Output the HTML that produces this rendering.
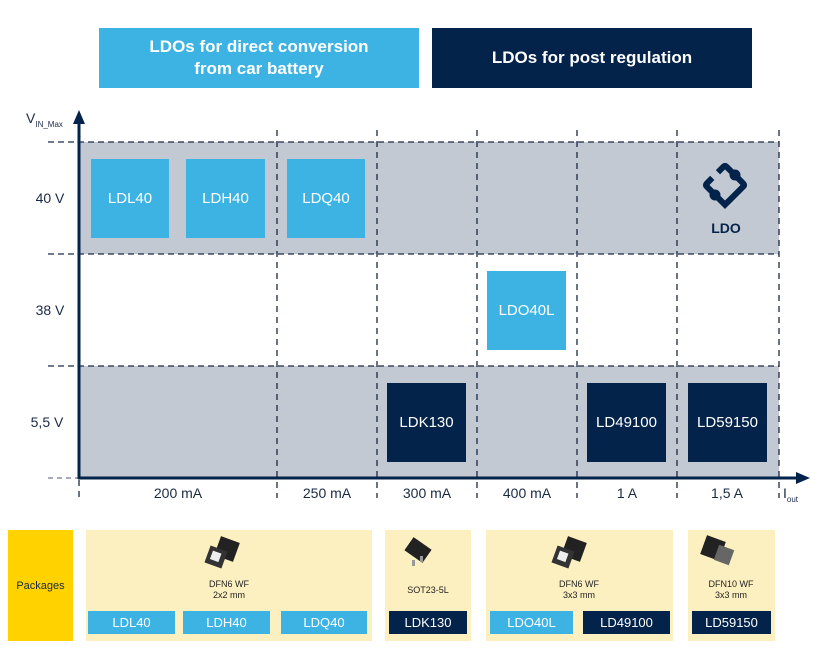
<!DOCTYPE html>
<html><head><meta charset="utf-8"><style>
body{margin:0;width:820px;height:660px;background:#fff;position:relative;overflow:hidden;font-family:"Liberation Sans",Arial,sans-serif}
.a{position:absolute}
.lb{background:#3DB3E3;color:#fff}
.dk{background:#03234B;color:#fff}
.box{position:absolute;display:flex;align-items:center;justify-content:center;font-size:15px;color:#fff}
.t{position:absolute;display:flex;align-items:center;justify-content:center;font-size:13px;color:#fff}
.lab{position:absolute;font-size:14px;color:#1a2a44;text-align:center}
.py{position:absolute;background:#FDF0C0;top:530px;height:111px}
.pt{position:absolute;font-size:9px;color:#222;text-align:center;line-height:11px}
</style></head><body>
<div class="box lb" style="left:99px;top:28px;width:320px;height:60px;font-size:17px;font-weight:bold;text-align:center;line-height:22px">LDOs for direct conversion<br>from car battery</div>
<div class="box dk" style="left:432px;top:28px;width:320px;height:60px;font-size:17px;font-weight:bold">LDOs for post regulation</div>

<div class="a" style="left:79px;top:142px;width:700px;height:112px;background:#C3C9D2"></div>
<div class="a" style="left:79px;top:366px;width:700px;height:112px;background:#C3C9D2"></div>

<svg class="a" style="left:0;top:0" width="820" height="660">
<g stroke="#1a2a44" stroke-width="1.3" stroke-dasharray="6,4">
<line x1="48" y1="142" x2="779" y2="142"/>
<line x1="48" y1="254" x2="779" y2="254"/>
<line x1="48" y1="366" x2="779" y2="366"/>
</g>
<g stroke="#1a2a44" stroke-width="1.3" stroke-dasharray="6,5">
<line x1="277" y1="130" x2="277" y2="498"/>
<line x1="377" y1="130" x2="377" y2="498"/>
<line x1="477" y1="130" x2="477" y2="498"/>
<line x1="577" y1="130" x2="577" y2="498"/>
<line x1="677" y1="130" x2="677" y2="498"/>
<line x1="779" y1="130" x2="779" y2="498"/>
<line x1="79" y1="480" x2="79" y2="498"/>
</g>
<line x1="48" y1="478" x2="79" y2="478" stroke="#8a93a3" stroke-width="1.5" stroke-dasharray="5,4"/>
<line x1="79" y1="120" x2="79" y2="479" stroke="#03234B" stroke-width="3"/>
<polygon points="79,110 73,124 85,124" fill="#03234B"/>
<line x1="78" y1="478" x2="798" y2="478" stroke="#03234B" stroke-width="3"/>
<polygon points="810,478 796,472 796,484" fill="#03234B"/>
<g transform="translate(725,185) rotate(45)" fill="none" stroke="#03234B" stroke-width="6">
<path d="M-14,-4 V-12 Q-14,-14 -12,-14 H-4"/>
<path d="M4,-14 H12 Q14,-14 14,-12 V14 H-12 Q-14,14 -14,12 V4"/>
</g>
<circle cx="735" cy="175" r="5.5" fill="#03234B"/><circle cx="715" cy="195" r="5.5" fill="#03234B"/>
<text x="726" y="233" font-family="Liberation Sans" font-weight="bold" font-size="14" fill="#03234B" text-anchor="middle">LDO</text>
</svg>

<div class="a" style="left:26px;top:110px;font-size:14px;color:#1a2a44">V<sub style="font-size:8px">IN_Max</sub></div>
<div class="lab" style="left:30px;top:190px;width:40px">40 V</div>
<div class="lab" style="left:30px;top:302px;width:40px">38 V</div>
<div class="lab" style="left:22px;top:414px;width:50px">5,5 V</div>

<div class="box lb" style="left:91px;top:159px;width:78px;height:79px">LDL40</div>
<div class="box lb" style="left:186px;top:159px;width:79px;height:79px">LDH40</div>
<div class="box lb" style="left:287px;top:159px;width:78px;height:79px">LDQ40</div>
<div class="box lb" style="left:487px;top:271px;width:79px;height:79px">LDO40L</div>
<div class="box dk" style="left:387px;top:383px;width:79px;height:79px">LDK130</div>
<div class="box dk" style="left:587px;top:383px;width:79px;height:79px">LD49100</div>
<div class="box dk" style="left:688px;top:383px;width:79px;height:79px">LD59150</div>

<div class="lab" style="left:128px;top:485px;width:100px">200 mA</div>
<div class="lab" style="left:277px;top:485px;width:100px">250 mA</div>
<div class="lab" style="left:377px;top:485px;width:100px">300 mA</div>
<div class="lab" style="left:477px;top:485px;width:100px">400 mA</div>
<div class="lab" style="left:577px;top:485px;width:100px">1 A</div>
<div class="lab" style="left:677px;top:485px;width:100px">1,5 A</div>
<div class="a" style="left:783px;top:485px;font-size:14px;color:#1a2a44">I<sub style="font-size:8px">out</sub></div>

<div class="a" style="left:8px;top:530px;width:65px;height:111px;background:#FFD200;display:flex;align-items:center;justify-content:center;font-size:11px;color:#1a2a44">Packages</div>
<div class="py" style="left:86px;width:286px"></div>
<div class="py" style="left:385px;width:86px"></div>
<div class="py" style="left:486px;width:187px"></div>
<div class="py" style="left:688px;width:87px"></div>

<svg class="a" style="left:0;top:0" width="820" height="660">
<g><rect x="217" y="539" width="20" height="20" fill="#222" transform="rotate(20 227 549)"/><rect x="207" y="548" width="18" height="18" fill="#333" transform="rotate(20 216 557)"/><rect x="211" y="552" width="9" height="9" fill="#eee" transform="rotate(20 216 557)"/></g>
<g><rect x="407" y="542" width="22" height="16" fill="#222" transform="rotate(35 418 550)"/><rect x="420" y="556" width="3" height="6" fill="#999"/><rect x="412" y="560" width="3" height="6" fill="#999"/></g>
<g><rect x="564" y="539" width="20" height="20" fill="#222" transform="rotate(20 574 549)"/><rect x="554" y="548" width="18" height="18" fill="#333" transform="rotate(20 563 557)"/><rect x="558" y="552" width="9" height="9" fill="#eee" transform="rotate(20 563 557)"/></g>
<g><rect x="703" y="538" width="20" height="20" fill="#222" transform="rotate(20 713 548)"/><rect x="716" y="547" width="16" height="16" fill="#666" transform="rotate(20 724 555)"/></g>
</svg>
<div class="pt" style="left:179px;top:579px;width:100px">DFN6 WF<br>2x2 mm</div>
<div class="pt" style="left:378px;top:585px;width:100px">SOT23-5L</div>
<div class="pt" style="left:529px;top:579px;width:100px">DFN6 WF<br>3x3 mm</div>
<div class="pt" style="left:681px;top:579px;width:100px">DFN10 WF<br>3x3 mm</div>

<div class="t lb" style="left:88px;top:611px;width:87px;height:23px">LDL40</div>
<div class="t lb" style="left:183px;top:611px;width:87px;height:23px">LDH40</div>
<div class="t lb" style="left:281px;top:611px;width:86px;height:23px">LDQ40</div>
<div class="t dk" style="left:389px;top:611px;width:78px;height:23px">LDK130</div>
<div class="t lb" style="left:490px;top:611px;width:83px;height:23px">LDO40L</div>
<div class="t dk" style="left:583px;top:611px;width:87px;height:23px">LD49100</div>
<div class="t dk" style="left:692px;top:611px;width:79px;height:23px">LD59150</div>
</body></html>
